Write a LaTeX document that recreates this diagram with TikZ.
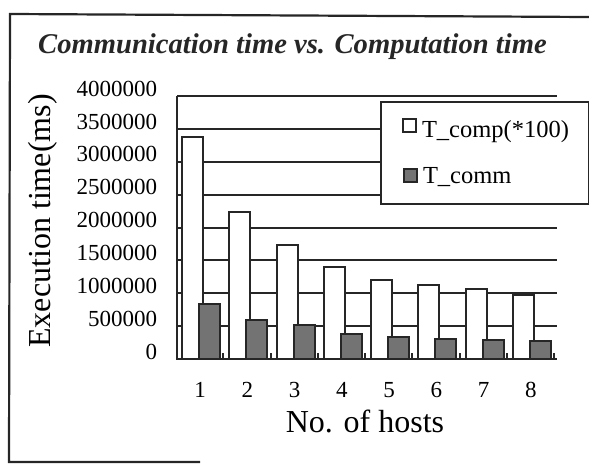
\documentclass[tikz,border=0pt]{standalone}
\usepackage{fontspec}
\setmainfont{Liberation Serif}
\usetikzlibrary{calc}

\begin{document}
\begin{tikzpicture}[x=1pt, y=-1pt, line width=2pt,
        line/.style = {draw=black!85, line width=2pt},
        lbl/.style = {inner sep=0pt, font=\fontsize{23}{23}\selectfont},
        big/.style = {inner sep=0pt, font=\fontsize{32}{32}\selectfont}]
    \useasboundingbox (0,0) rectangle (589,466);
    \draw[line, line width=2.2pt] (200,462) -- (9,462) -- (10,14) -- (589,17);
    \node[anchor=base, inner sep=0pt, black!85, font=\fontsize{28.6}{28.6}\selectfont\bfseries\itshape] (title) at (292.5,53) {Communication time vs. Computation time};
    \foreach \i/\t in {0/0, 1/500000, 2/1000000, 3/1500000, 4/2000000, 5/2500000, 6/3000000, 7/3500000, 8/4000000} {
        \draw[line] (177,{359-32.85*\i}) -- (557,{359-32.85*\i});
        \node[lbl, anchor=base east] (y\i) at (158,{359-32.85*\i}) {\t};
    }
    \foreach \n/\a/\b [count=\k from 0] in {1/3.38/0.84, 2/2.23/0.59, 3/1.74/0.51, 4/1.40/0.385, 5/1.21/0.33, 6/1.12/0.31, 7/1.06/0.29, 8/0.97/0.27} {
        \draw[line, fill=white] ({182+47.25*\k},359) rectangle ({203+47.25*\k},{359-65.7*\a});
        \draw[line, fill=black!55] ({199+47.25*\k},359) rectangle ({220+47.25*\k},{359-65.7*\b});
        \draw[line] ({223.25+47.25*\k},359) -- ++(0,-6);
        \node[lbl, anchor=base] (x\n) at ({200+47.25*\k},397) {\n};
    }
    \draw[line] (177,96) -- (177,359) -- (557,359);
    \node[big, anchor=base] (xtitle) at (365,432) {No. of hosts};
    \node[big, anchor=base, rotate=90] (ytitle) at (50,221) {Execution time(ms)};
    \node[line, fill=white, anchor=north west, minimum width=208pt, minimum height=102pt] (legend) at (380,101) {};
    \node[line, fill=white, minimum size=13pt, inner sep=0pt] (kcomp) at (409.5,125.5) {};
    \node[lbl, font=\fontsize{24.5}{24.5}\selectfont, anchor=base west] (tcomp) at (421,137) {T\_comp(*100)};
    \node[line, fill=black!55, minimum size=13pt, inner sep=0pt] (kcomm) at (410,175) {};
    \node[lbl, font=\fontsize{24.5}{24.5}\selectfont, anchor=base west] (tcomm) at (422,183) {T\_comm};
\end{tikzpicture}
\end{document}
